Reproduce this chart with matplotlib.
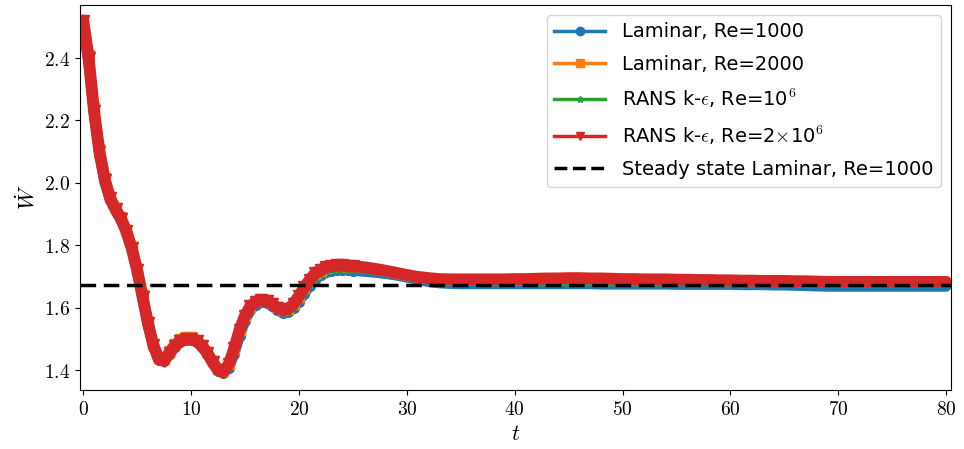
import numpy as np
import matplotlib
matplotlib.use("Agg")
import matplotlib.pyplot as plt
from matplotlib.ticker import FuncFormatter
from matplotlib.lines import Line2D

plt.rcParams['mathtext.fontset'] = 'cm'
plt.rcParams['font.family'] = ['DejaVu Sans']

# time grid: fine sampling during the transient, coarser on the plateau
t_early = np.arange(0, 25.5, 0.5)
t_late = np.arange(26, 81, 1)
t = np.concatenate([t_early, t_late])

# Laminar, Re=1000
lam1000 = [
    2.50, 2.38, 2.22, 2.09, 2.00, 1.945, 1.91, 1.88, 1.84, 1.785,
    1.715, 1.63, 1.545, 1.475, 1.432, 1.428, 1.452, 1.475, 1.49, 1.497,
    1.497, 1.49, 1.475, 1.452, 1.422, 1.397, 1.39, 1.408, 1.452, 1.51,
    1.558, 1.592, 1.61, 1.617, 1.615, 1.605, 1.592, 1.583, 1.585, 1.598,
    1.62, 1.645, 1.67, 1.69, 1.705, 1.714, 1.719, 1.722, 1.722, 1.721,
    1.719,
    1.716, 1.713, 1.709, 1.704, 1.697, 1.690, 1.683, 1.679, 1.677, 1.676,
    1.676, 1.676, 1.676, 1.676, 1.676, 1.676, 1.676, 1.676, 1.676, 1.676,
    1.676, 1.676, 1.675, 1.675, 1.675, 1.675, 1.675, 1.675, 1.675, 1.674,
    1.674, 1.674, 1.674, 1.674, 1.674, 1.673, 1.673, 1.673, 1.672, 1.672,
    1.671, 1.670, 1.669, 1.668, 1.668, 1.668, 1.668, 1.668, 1.668, 1.668,
    1.668, 1.668, 1.668, 1.668, 1.668,
]

# Laminar, Re=2000
lam2000 = [
    2.52, 2.41, 2.24, 2.11, 2.015, 1.955, 1.92, 1.89, 1.85, 1.795,
    1.725, 1.64, 1.555, 1.485, 1.44, 1.436, 1.462, 1.484, 1.499, 1.506,
    1.505, 1.497, 1.482, 1.459, 1.43, 1.404, 1.397, 1.42, 1.468, 1.528,
    1.573, 1.604, 1.621, 1.628, 1.625, 1.615, 1.602, 1.594, 1.597, 1.611,
    1.636, 1.663, 1.688, 1.707, 1.719, 1.727, 1.731, 1.733, 1.733, 1.731,
    1.729,
    1.727, 1.722, 1.716, 1.709, 1.702, 1.696, 1.692, 1.689, 1.688, 1.688,
    1.688, 1.688, 1.688, 1.688, 1.689, 1.689, 1.690, 1.691, 1.691, 1.692,
    1.692, 1.691, 1.691, 1.690, 1.690, 1.689, 1.689, 1.689, 1.688, 1.688,
    1.687, 1.687, 1.686, 1.686, 1.685, 1.685, 1.684, 1.684, 1.684, 1.683,
    1.683, 1.682, 1.682, 1.681, 1.681, 1.681, 1.681, 1.681, 1.681, 1.681,
    1.681, 1.681, 1.681, 1.681, 1.681,
]

# RANS k-eps, Re=1e6
rans1e6 = [
    2.51, 2.39, 2.225, 2.095, 2.005, 1.948, 1.912, 1.882, 1.842, 1.788,
    1.718, 1.633, 1.548, 1.478, 1.434, 1.43, 1.455, 1.477, 1.492, 1.499,
    1.499, 1.492, 1.477, 1.454, 1.424, 1.399, 1.392, 1.414, 1.46, 1.52,
    1.566, 1.598, 1.615, 1.621, 1.619, 1.609, 1.596, 1.588, 1.591, 1.605,
    1.629, 1.655, 1.68, 1.70, 1.713, 1.721, 1.725, 1.727, 1.727, 1.726,
    1.724,
    1.722, 1.718, 1.713, 1.707, 1.700, 1.694, 1.689, 1.686, 1.684, 1.683,
    1.683, 1.683, 1.683, 1.683, 1.683, 1.683, 1.683, 1.683, 1.683, 1.683,
    1.683, 1.683, 1.683, 1.682, 1.682, 1.682, 1.682, 1.682, 1.682, 1.682,
    1.682, 1.682, 1.682, 1.682, 1.682, 1.681, 1.681, 1.681, 1.681, 1.680,
    1.680, 1.680, 1.680, 1.679, 1.679, 1.679, 1.679, 1.679, 1.679, 1.679,
    1.679, 1.679, 1.679, 1.679, 1.679,
]

# RANS k-eps, Re=2e6
rans2e6 = [
    2.52, 2.40, 2.23, 2.10, 2.01, 1.95, 1.915, 1.885, 1.845, 1.79,
    1.72, 1.635, 1.55, 1.48, 1.435, 1.43, 1.455, 1.478, 1.493, 1.50,
    1.50, 1.493, 1.478, 1.455, 1.425, 1.40, 1.395, 1.42, 1.47, 1.53,
    1.575, 1.605, 1.62, 1.625, 1.622, 1.612, 1.60, 1.592, 1.597, 1.612,
    1.638, 1.665, 1.69, 1.71, 1.722, 1.73, 1.734, 1.736, 1.736, 1.735,
    1.733,
    1.730, 1.725, 1.719, 1.712, 1.705, 1.699, 1.695, 1.692, 1.691, 1.691,
    1.691, 1.691, 1.691, 1.691, 1.692, 1.692, 1.693, 1.694, 1.694, 1.695,
    1.695, 1.694, 1.694, 1.693, 1.692, 1.692, 1.691, 1.691, 1.691, 1.690,
    1.690, 1.689, 1.689, 1.688, 1.688, 1.687, 1.687, 1.686, 1.686, 1.686,
    1.685, 1.685, 1.684, 1.683, 1.683, 1.683, 1.683, 1.683, 1.683, 1.683,
    1.683, 1.683, 1.683, 1.683, 1.683,
]

steady_lam1000 = 1.674

labels = ['Laminar, Re=1000', 'Laminar, Re=2000',
          r'RANS k-$\epsilon$, Re=10$^6$', r'RANS k-$\epsilon$, Re=2$\times$10$^6$',
          'Steady state Laminar, Re=1000']
colors = ['tab:blue', 'tab:orange', 'tab:green', 'tab:red']
markers = ['o', 's', '*', 'v']
band_widths = [7.5, 7.5, 6, 8.5]
series = [lam1000, lam2000, rans1e6, rans2e6]

fig = plt.figure(figsize=(9.64, 4.49), dpi=100)
ax = fig.add_axes([0.083, 0.131, 0.903, 0.858])

# dense markers in the original merge into a thick band
for y, c, m, w in zip(series, colors, markers, band_widths):
    ax.plot(t, y, '-', color=c, lw=w, solid_capstyle='round')
    ax.plot(t[:51], y[:51], m, color=c, ms=9 if m == 'v' else 7, ls='none')

ax.axhline(steady_lam1000, color='black', ls='--', lw=2.5, dashes=(4.5, 2.2))

ax.set_xlim(-0.3, 80.4)
ax.set_ylim(1.336, 2.57)
ax.set_xticks(np.arange(0, 81, 10))
ax.set_yticks([1.4, 1.6, 1.8, 2.0, 2.2, 2.4])
ax.xaxis.set_major_formatter(FuncFormatter(lambda v, p: f'${v:.0f}$'))
ax.yaxis.set_major_formatter(FuncFormatter(lambda v, p: f'${v:.1f}$'))
ax.tick_params(labelsize=14)

ax.set_xlabel(r'$t$', fontsize=16)
ax.set_ylabel(r'$\dot{W}$', fontsize=16)

handles = [Line2D([], [], color=c, marker=m, lw=2.5, ms=5 if m == '*' else 6)
           for c, m in zip(colors, markers)]
handles.append(Line2D([], [], color='black', ls='--', lw=2.5))
ax.legend(handles, labels, loc='upper right', fontsize=14, handlelength=2.6,
          labelspacing=0.68, handletextpad=0.85)

plt.savefig('out.png', dpi=100)
